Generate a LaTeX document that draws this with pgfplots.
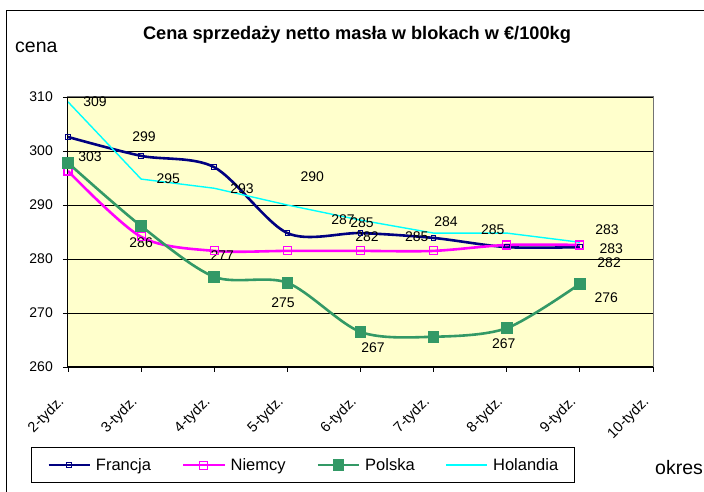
\documentclass[border=0pt]{standalone}
\usepackage{fontspec}
\setmainfont{Liberation Sans}
\usepackage{pgfplots}
\pgfplotsset{compat=1.18}
\definecolor{francja}{HTML}{000080}
\definecolor{niemcy}{HTML}{FF00FF}
\definecolor{polska}{HTML}{339966}
\definecolor{holandia}{HTML}{00FFFF}
\definecolor{plotbg}{HTML}{FFFFCC}
\begin{document}
\begin{tikzpicture}[x=1pt,y=1pt]
\path[use as bounding box] (-68,-125) rectangle (636,367);
\clip (-68,-125) rectangle (636,367);
\draw[line width=1pt] (-61,356) rectangle (680,-160);
\begin{axis}[
  at={(0,0)}, anchor=south west,
  scale only axis, width=585pt, height=270pt,
  xmin=0, xmax=8, ymin=260, ymax=310,
  xtick={0,...,8},
  xticklabels={2-tydz.,3-tydz.,4-tydz.,5-tydz.,6-tydz.,7-tydz.,8-tydz.,9-tydz.,10-tydz.},
  ytick={260,270,...,310},
  ymajorgrids, grid style={black, line width=0.7pt},
  axis background/.style={fill=plotbg},
  axis line style={black!55, line width=1pt},
  tick align=outside, major tick length=5pt, tick style={black, line width=0.8pt},
  xtick pos=bottom, ytick pos=left,
  /pgf/number format/assume math mode=true,
  ticklabel style={font=\fontsize{14}{16}\selectfont},
  yticklabel style={anchor=east, inner sep=0pt, xshift=-10pt},
  xticklabel style={font=\fontsize{14.5}{16}\selectfont, xshift=-6pt, yshift=-28pt, rotate=45, anchor=east, inner sep=0pt},
  clip=false,
  legend columns=4,
  legend style={at={(axis description cs:0,0)}, anchor=north west, xshift=-37pt, yshift=-80pt,
    draw=black, line width=0.8pt, font=\fontsize{16.5}{19}\selectfont,
    inner xsep=16pt, inner ysep=11pt, nodes={inner sep=0pt},
    /tikz/every odd column/.append style={column sep=5pt},
    /tikz/every even column/.append style={column sep=31pt}},
  legend image code/.code={\draw[mark repeat=2,mark phase=2,#1] plot coordinates {(0pt,0pt) (20.5pt,0pt) (41pt,0pt)};},
]
\addplot[francja, line width=2.6pt, smooth, mark=square, mark size=2.3pt, mark options={solid, line width=1pt, fill=white}]
  coordinates {(0,302.6) (1,299.1) (2,297.0) (3,284.8) (4,284.8) (5,283.9) (6,282.2) (7,282.2)};
\addlegendentry{Francja}
\addplot[niemcy, line width=2.6pt, smooth, mark=square, mark size=4pt, mark options={solid, line width=1.1pt, fill=plotbg}]
  coordinates {(0,296.3) (1,284.1) (2,281.5) (3,281.5) (4,281.5) (5,281.5) (6,282.6) (7,282.6)};
\addlegendentry{Niemcy}
\addplot[polska, line width=2.6pt, smooth, mark=square*, mark size=4.5pt, mark options={solid, fill=polska}]
  coordinates {(0,297.8) (1,286.1) (2,276.7) (3,275.6) (4,266.5) (5,265.6) (6,267.2) (7,275.4)};
\addlegendentry{Polska}
\addplot[holandia, line width=1.4pt, mark=none]
  coordinates {(0,309.1) (1,294.8) (2,293.1) (3,290.0) (4,287.2) (5,284.8) (6,284.8) (7,283.1)};
\addlegendentry{Holandia}
\draw[black, line width=1pt] (rel axis cs:0,1) -- (rel axis cs:0,0) -- (rel axis cs:1,0);
\begin{scope}[every node/.style={font=\fontsize{14}{16}\selectfont, inner sep=0pt}]
\node at (axis cs:0.37,309.1) {309};
\node at (axis cs:0.30,298.9) {303};
\node at (axis cs:1.04,302.6) {299};
\node at (axis cs:1.37,294.8) {295};
\node at (axis cs:2.38,293.1) {293};
\node at (axis cs:3.34,295.2) {290};
\node at (axis cs:3.76,287.2) {287};
\node at (axis cs:4.02,286.7) {285};
\node at (axis cs:4.09,284.1) {282};
\node at (axis cs:4.77,284.1) {285};
\node at (axis cs:5.17,287.0) {284};
\node at (axis cs:5.81,285.4) {285};
\node at (axis cs:7.37,285.4) {283};
\node at (axis cs:7.43,282.0) {283};
\node at (axis cs:7.40,279.4) {282};
\node at (axis cs:1.00,283.0) {286};
\node at (axis cs:2.11,280.6) {277};
\node at (axis cs:2.94,272.0) {275};
\node at (axis cs:4.17,263.5) {267};
\node at (axis cs:5.96,264.4) {267};
\node at (axis cs:7.36,272.8) {276};
\end{scope}
\end{axis}
\node[anchor=base, font=\bfseries\fontsize{18.2}{20}\selectfont, inner sep=0pt] at (289,327) {Cena sprzedaży netto masła w blokach w €/100kg};
\node[anchor=base west, font=\fontsize{19.5}{22}\selectfont, inner sep=0pt] at (-53,314) {cena};
\node[anchor=base west, font=\fontsize{19.5}{22}\selectfont, inner sep=0pt] at (587,-108) {okres};
\end{tikzpicture}
\end{document}
